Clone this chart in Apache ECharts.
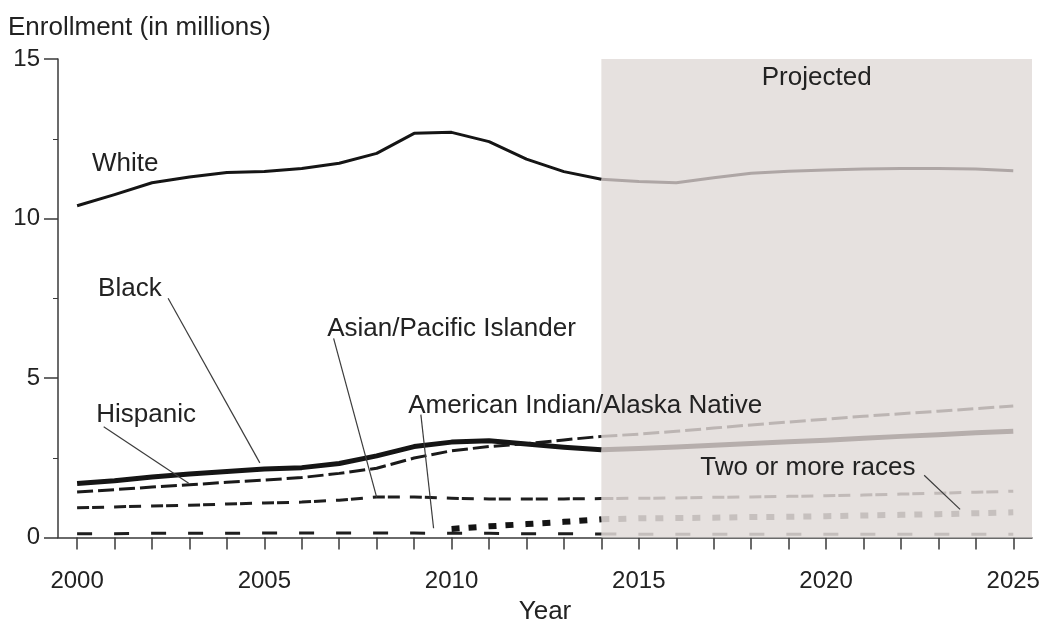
<!DOCTYPE html>
<html>
<head>
<meta charset="utf-8">
<script src="https://cdn.jsdelivr.net/npm/echarts@6/dist/echarts.min.js"></script>
<style>
  html, body { margin: 0; padding: 0; background: #ffffff; }
  #chart { width: 1043px; height: 621px; }
</style>
</head>
<body>
<div id="chart"></div>
<script>
// Fall enrollment by race/ethnicity, in millions (actual through 2014, projected after)
const years = [2000, 2001, 2002, 2003, 2004, 2005, 2006, 2007, 2008, 2009, 2010, 2011, 2012,
               2013, 2014, 2015, 2016, 2017, 2018, 2019, 2020, 2021, 2022, 2023, 2024, 2025];
const white = [10.40, 10.75, 11.12, 11.30, 11.44, 11.47, 11.57, 11.73, 12.04, 12.67, 12.70, 12.41, 11.86,
               11.47, 11.23, 11.16, 11.12, 11.28, 11.42, 11.48, 11.52, 11.55, 11.57, 11.57, 11.55, 11.50];
const black = [1.69, 1.78, 1.90, 1.99, 2.07, 2.15, 2.19, 2.32, 2.56, 2.85, 2.99, 3.03, 2.93,
               2.83, 2.75, 2.79, 2.84, 2.89, 2.95, 3.00, 3.05, 3.11, 3.17, 3.22, 3.28, 3.33];
const hispanic = [1.43, 1.50, 1.58, 1.65, 1.73, 1.80, 1.88, 2.01, 2.17, 2.49, 2.72, 2.85, 2.94,
                  3.06, 3.17, 3.24, 3.33, 3.43, 3.53, 3.62, 3.71, 3.80, 3.88, 3.96, 4.04, 4.12];
const asianPacific = [0.93, 0.96, 0.99, 1.01, 1.05, 1.08, 1.11, 1.17, 1.27, 1.27, 1.23, 1.21, 1.21,
                      1.21, 1.22, 1.23, 1.24, 1.26, 1.27, 1.29, 1.31, 1.33, 1.36, 1.39, 1.42, 1.45];
const amIndian = [0.12, 0.12, 0.13, 0.13, 0.13, 0.14, 0.14, 0.14, 0.14, 0.14, 0.13, 0.13, 0.12,
                  0.12, 0.11, 0.10, 0.10, 0.10, 0.10, 0.10, 0.10, 0.10, 0.10, 0.10, 0.10, 0.10];
const twoOrMore = [null, null, null, null, null, null, null, null, null, null, 0.27, 0.35, 0.42,
                   0.49, 0.57, 0.60, 0.61, 0.62, 0.64, 0.65, 0.67, 0.69, 0.71, 0.73, 0.76, 0.79];

const lastActualYear = 2014;
const tickYears = years;
const labelYears = [2000, 2005, 2010, 2015, 2020, 2025];

// Group labels with text anchor (year, millions) and leader line ends
const groupNotes = [
  { text: 'White', at: [2000.40, 11.70] },
  { text: 'Black', at: [2000.56, 7.80], from: [2002.43, 7.50], to: [2004.88, 2.34] },
  { text: 'Hispanic', at: [2000.51, 3.85], from: [2000.71, 3.47], to: [2002.98, 1.70] },
  { text: 'Asian/Pacific Islander', at: [2006.68, 6.55], from: [2006.85, 6.24], to: [2008.0, 1.26] },
  { text: 'American Indian/Alaska Native', at: [2008.84, 4.13], from: [2009.18, 3.85], to: [2009.52, 0.29] },
  { text: 'Two or more races', at: [2016.64, 2.17], from: [2022.62, 1.95], to: [2023.58, 0.88] }
];

const FONT = 'Liberation Sans, Arial, Helvetica, sans-serif';
const TXT = '#222222';
const NOTE_SIZE = 26;

function part(values, projected) {
  const out = [];
  years.forEach((yr, i) => {
    if (values[i] == null) return;
    if (projected ? yr >= lastActualYear : yr <= lastActualYear) out.push([yr, values[i]]);
  });
  return out;
}

function lineSeries(name, data, color, width, dash, z) {
  return {
    type: 'line', name, data, z,
    symbol: 'none', showSymbol: false, silent: true, animation: false,
    lineStyle: { color, width, type: dash || 'solid', cap: 'butt', join: 'round' }
  };
}

const styles = [
  { v: white,        w: 3,   dash: 'solid',          dark: '#151515', light: '#aea6a5' },
  { v: black,        w: 5,   dash: 'solid',          dark: '#151515', light: '#b6aeac' },
  { v: hispanic,     w: 3,   dash: [16, 5],          dark: '#1a1a1a', light: '#bcb5b3' },
  { v: asianPacific, w: 3,   dash: [12, 3, 12, 10],  dark: '#1e1e1e', light: '#c1bab8' },
  { v: amIndian,     w: 3,   dash: [15, 22],         dark: '#1e1e1e', light: '#c4bebc' },
  { v: twoOrMore,    w: 6,   dash: [8, 9, 8, 12],    dark: '#141414', light: '#c6c0be' }
];

const series = [{
  type: 'line', data: [], z: 0, silent: true, animation: false,
  markArea: {
    silent: true,
    itemStyle: { color: '#e6e1df' },
    label: { show: true, position: 'insideTop', distance: 6, color: TXT,
             fontFamily: FONT, fontSize: NOTE_SIZE },
    data: [[{ xAxis: lastActualYear, name: 'Projected' }, { xAxis: 2025.5 }]]
  }
}];
styles.forEach(s => {
  series.push(lineSeries('', part(s.v, false), s.dark, s.w, s.dash, 3));
  series.push(lineSeries('', part(s.v, true), s.light, s.w, s.dash, 2));
});

const chart = echarts.init(document.getElementById('chart'), null, { renderer: 'canvas' });
chart.setOption({
  animation: false,
  backgroundColor: '#ffffff',
  grid: { left: 58, right: 11, top: 59, bottom: 83.5, containLabel: false, outerBoundsMode: 'none' },
  xAxis: {
    type: 'value', min: 1999.49, max: 2025.5,
    name: 'Year', nameLocation: 'middle', nameGap: 58,
    nameTextStyle: { color: TXT, fontFamily: FONT, fontSize: NOTE_SIZE },
    axisLine: { show: true, lineStyle: { color: '#3a3a3a', width: 1.5 } },
    axisTick: { show: true, customValues: tickYears, length: 12, lineStyle: { color: '#3a3a3a', width: 1.5 } },
    axisLabel: { customValues: labelYears, margin: 32, color: TXT, fontFamily: FONT, fontSize: 24,
                 formatter: v => String(v) },
    splitLine: { show: false }
  },
  yAxis: {
    type: 'value', min: 0, max: 15, interval: 5,
    axisLine: { show: true, lineStyle: { color: '#3a3a3a', width: 1.5 } },
    axisTick: { show: true, length: 14, lineStyle: { color: '#3a3a3a', width: 1.5 } },
    minorTick: { show: true, splitNumber: 2, length: 5, lineStyle: { color: '#3a3a3a', width: 1 } },
    axisLabel: { margin: 18, color: TXT, fontFamily: FONT, fontSize: 24 },
    splitLine: { show: false }
  },
  series
});

// Axis title and group labels with leader lines, placed through the grid's scales
function drawNotes() {
  const els = [{
    type: 'text', left: 8, top: 15,
    style: { text: 'Enrollment (in millions)', fill: TXT, font: NOTE_SIZE + 'px ' + FONT }
  }];
  groupNotes.forEach(n => {
    const p = chart.convertToPixel({ gridIndex: 0 }, n.at);
    els.push({
      type: 'text', x: p[0], y: p[1], z: 10,
      style: { text: n.text, fill: TXT, font: NOTE_SIZE + 'px ' + FONT,
               textVerticalAlign: 'middle', textAlign: 'left' }
    });
    if (n.from) {
      const a = chart.convertToPixel({ gridIndex: 0 }, n.from);
      const b = chart.convertToPixel({ gridIndex: 0 }, n.to);
      els.push({
        type: 'line', z: 10, silent: true,
        shape: { x1: a[0], y1: a[1], x2: b[0], y2: b[1] },
        style: { stroke: '#3c3c3c', lineWidth: 1.2 }
      });
    }
  });
  chart.setOption({ graphic: els });
}
drawNotes();
</script>
</body>
</html>
